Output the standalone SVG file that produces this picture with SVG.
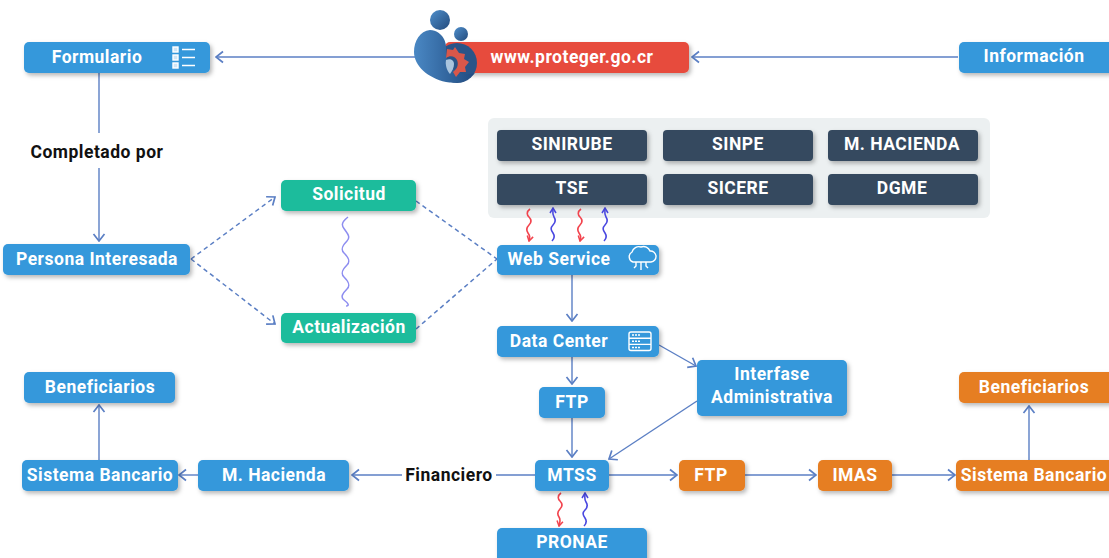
<svg xmlns="http://www.w3.org/2000/svg" width="1109" height="558" viewBox="0 0 1109 558">
<defs>
<style>
text{font-family:Roboto,"Liberation Sans",sans-serif;font-weight:700;font-size:17.5px;letter-spacing:.5px;fill:#fff;text-anchor:middle}
.b{fill:#3498db}.g{fill:#1abc9c}.d{fill:#34495e}.o{fill:#e67e22}.r{fill:#e74c3c}
.box{filter:url(#sh)}
.c{fill:none;stroke:#5b7fc4;stroke-width:1.4}
.dash{stroke-dasharray:4.500 3.500;stroke-width:1.5}
.wr{fill:none;stroke:#f2444e;stroke-width:1.6}
.wb{fill:none;stroke:#4a48e0;stroke-width:1.6}
.wl{fill:none;stroke:#8d8df0;stroke-width:1.5}
.i{fill:none;stroke:#fff;stroke-width:1.4}
.lbl{fill:#111}
</style>
<filter id="sh" x="-10%" y="-20%" width="125%" height="155%"><feDropShadow dx="2" dy="2.500" stdDeviation="2.200" flood-color="#000" flood-opacity=".28"/></filter>
<linearGradient id="lg" x1="0" y1="0" x2="1" y2="1"><stop offset="0" stop-color="#4f8fcb"/><stop offset="1" stop-color="#234a7c"/></linearGradient>
<linearGradient id="lg2" x1="0" y1="0" x2="1" y2="0"><stop offset="0" stop-color="#4a88c4"/><stop offset="1" stop-color="#1f4a80"/></linearGradient>
<marker id="a" viewBox="0 0 12 14" refX="11" refY="7" markerWidth="12" markerHeight="14" markerUnits="userSpaceOnUse" orient="auto"><path d="M4 1.500 L11 7 L4 12.500" fill="none" stroke="#5b7fc4" stroke-width="1.700"/></marker>
<marker id="ar" viewBox="0 0 8 8" refX="7" refY="4" markerWidth="8" markerHeight="8" markerUnits="userSpaceOnUse" orient="auto"><path d="M2 1 L7 4 L2 7" fill="none" stroke="#f2444e" stroke-width="1.500"/></marker>
<marker id="ab" viewBox="0 0 8 8" refX="7" refY="4" markerWidth="8" markerHeight="8" markerUnits="userSpaceOnUse" orient="auto"><path d="M2 1 L7 4 L2 7" fill="none" stroke="#4a48e0" stroke-width="1.500"/></marker>
</defs>

<rect x="488" y="118" width="502" height="100" rx="6" fill="#ecf0f1"/>

<g id="connectors">
<path class="c" d="M958 57H692" marker-end="url(#a)"/>
<path class="c" d="M415 57H216" marker-end="url(#a)"/>
<path class="c" d="M99 73V133"/>
<path class="c" d="M99 168V241" marker-end="url(#a)"/>
<path class="c dash" d="M191 259L275 197" marker-end="url(#a)"/>
<path class="c dash" d="M191 259L275 324" marker-end="url(#a)"/>
<path class="c dash" d="M416 201L497 259"/>
<path class="c dash" d="M416 329L497 259"/>
<path class="c" d="M572 275V321" marker-end="url(#a)"/>
<path class="c" d="M572 357V384" marker-end="url(#a)"/>
<path class="c" d="M572 418V457" marker-end="url(#a)"/>
<path class="c" d="M659 345L696 366" marker-end="url(#a)"/>
<path class="c" d="M697 401L609 459" marker-end="url(#a)"/>
<path class="c" d="M535 475H496"/>
<path class="c" d="M402 475H352" marker-end="url(#a)"/>
<path class="c" d="M198 475H179" marker-end="url(#a)"/>
<path class="c" d="M99 460V405" marker-end="url(#a)"/>
<path class="c" d="M609 475H677" marker-end="url(#a)"/>
<path class="c" d="M745 475H816" marker-end="url(#a)"/>
<path class="c" d="M892 475H955" marker-end="url(#a)"/>
<path class="c" d="M1029 460V406" marker-end="url(#a)"/>
<path class="wl" d="M348 217c-9 7-5 10-3 13s6 7 2 11-7 8-3 12 7 8 3 12-7 8-3 12 7 8 3 12-7 8-3 11 6 6 2 6"/>
<path class="wr" d="M530 209c-4 3-3 6-1 8s3 5 0 8-3 5-1 8 2 4 1 8" marker-end="url(#ar)"/>
<path class="wb" d="M552 241c3-3 3-5 1-8s-3-5 0-8 3-5 1-8-1-6-1-9" marker-end="url(#ab)"/>
<path class="wr" d="M581 209c-4 3-3 6-1 8s3 5 0 8-3 5-1 8 2 4 1 8" marker-end="url(#ar)"/>
<path class="wb" d="M604 241c3-3 3-5 1-8s-3-5 0-8 3-5 1-8-1-6-1-9" marker-end="url(#ab)"/>
<path class="wr" d="M561 493c-4 3-3 6-1 8s3 5 0 8-3 5-1 8 1 4 0 9" marker-end="url(#ar)"/>
<path class="wb" d="M584 526c3-3 3-5 1-8s-3-5 0-8 3-5 1-8-1-5-1-9" marker-end="url(#ab)"/>
</g>

<g id="n-formulario"><rect class="b box" x="24" y="42" width="186" height="31" rx="5"/><text x="97" y="63">Formulario</text>
<g class="i"><rect x="173" y="47" width="5" height="5" fill="#cfe6f7"/><rect x="173" y="55" width="5" height="5" fill="#cfe6f7"/><rect x="173" y="63" width="5" height="5" fill="#cfe6f7"/><path d="M182 49.500H195M182 57.500H195M182 65.500H195"/></g></g>

<g id="n-web"><rect class="r box" x="445" y="42" width="244" height="31" rx="5"/><text x="572" y="63">www.proteger.go.cr</text></g>
<g id="n-logo">
<circle cx="440" cy="20" r="10" fill="url(#lg)"/>
<circle cx="461" cy="34" r="7" fill="url(#lg)"/>
<circle cx="457" cy="63" r="20" fill="#2a5488"/>
<path d="M430 30C443 31 447 43 446 50C445 68 458 77 475 73C468 81 458 84 446 82C428 78 414 66 414 52C414 41 420 31 430 30Z" fill="url(#lg2)"/>
<path d="M447 49L453 50L455 47L459 53L465 54L464 59L469 62L465 67L466 72L460 72L456 77L453 72C457 69 459 65 457 60C455 56 450 55 446 58Z" fill="#d9574a"/>
<path d="M446 60C450 58 454 60 454 64C454 68 452 71 450 74C447 71 445 65 446 60Z" fill="#a9c4de"/>
</g>
<g id="n-informacion"><rect class="b box" x="959" y="42" width="155" height="31" rx="5"/><text x="1034" y="62">Información</text></g>

<g id="n-sinirube"><rect class="d box" x="497" y="130" width="150" height="31" rx="4"/><text x="572" y="150">SINIRUBE</text></g>
<g id="n-sinpe"><rect class="d box" x="663" y="130" width="150" height="31" rx="4"/><text x="738" y="150">SINPE</text></g>
<g id="n-mhacienda-top"><rect class="d box" x="828" y="130" width="150" height="31" rx="4"/><text x="902" y="150">M. HACIENDA</text></g>
<g id="n-tse"><rect class="d box" x="497" y="174" width="150" height="31" rx="4"/><text x="572" y="194">TSE</text></g>
<g id="n-sicere"><rect class="d box" x="663" y="174" width="150" height="31" rx="4"/><text x="738" y="194">SICERE</text></g>
<g id="n-dgme"><rect class="d box" x="828" y="174" width="150" height="31" rx="4"/><text x="902" y="194">DGME</text></g>

<g id="n-completado"><text x="97" y="158" style="fill:#111">Completado por</text></g>
<g id="n-persona"><rect class="b box" x="3" y="244" width="187" height="31" rx="5"/><text x="97" y="265">Persona Interesada</text></g>
<g id="n-solicitud"><rect class="g box" x="281" y="180" width="135" height="31" rx="5"/><text x="349" y="200">Solicitud</text></g>
<g id="n-actualizacion"><rect class="g box" x="281" y="313" width="135" height="30" rx="5"/><text x="349" y="333">Actualización</text></g>

<g id="n-webservice"><rect class="b box" x="497" y="245" width="162" height="30" rx="5"/><text x="559" y="265">Web Service</text>
<g class="i"><path d="M634 262h-1a5.500 5.500 0 0 1-1-10a7 7 0 0 1 9-5a7 7 0 0 1 9 4a5.500 5.500 0 0 1 1 11h-17"/><path d="M641 262V270M636 262V266L634 268M646 262V266L648 268"/></g></g>
<g id="n-datacenter"><rect class="b box" x="497" y="326" width="162" height="31" rx="5"/><text x="559" y="347">Data Center</text>
<g class="i"><rect x="629" y="332" width="22" height="18.500" rx="2"/><path d="M629 338.200H651M629 344.400H651"/><path d="M632 335H641M632 341.300H641M632 347.500H641" stroke-dasharray="2 1"/></g></g>
<g id="n-interfase"><rect class="b box" x="697" y="360" width="150" height="56" rx="5"/><text x="772" y="380">Interfase</text><text x="772" y="403">Administrativa</text></g>
<g id="n-ftp"><rect class="b box" x="539" y="387" width="66" height="31" rx="5"/><text x="572" y="408">FTP</text></g>

<g id="n-benef-l"><rect class="b box" x="24" y="372" width="151" height="31" rx="5"/><text x="100" y="393">Beneficiarios</text></g>
<g id="n-banco-l"><rect class="b box" x="22" y="460" width="156" height="31" rx="5"/><text x="100" y="481">Sistema Bancario</text></g>
<g id="n-mhacienda"><rect class="b box" x="198" y="460" width="151" height="31" rx="5"/><text x="274" y="481">M. Hacienda</text></g>
<g id="n-financiero"><text x="449" y="481" style="fill:#111">Financiero</text></g>
<g id="n-mtss"><rect class="b box" x="535" y="460" width="74" height="31" rx="5"/><text x="572" y="481">MTSS</text></g>
<g id="n-pronae"><rect class="b box" x="497" y="528" width="150" height="36" rx="5"/><text x="572" y="548">PRONAE</text></g>
<g id="n-ftp-o"><rect class="o box" x="679" y="460" width="66" height="31" rx="5"/><text x="711" y="481">FTP</text></g>
<g id="n-imas"><rect class="o box" x="818" y="460" width="74" height="31" rx="5"/><text x="855" y="481">IMAS</text></g>
<g id="n-banco-r"><rect class="o box" x="956" y="460" width="158" height="31" rx="5"/><text x="1034" y="481">Sistema Bancario</text></g>
<g id="n-benef-r"><rect class="o box" x="959" y="372" width="155" height="31" rx="5"/><text x="1034" y="393">Beneficiarios</text></g>
</svg>
